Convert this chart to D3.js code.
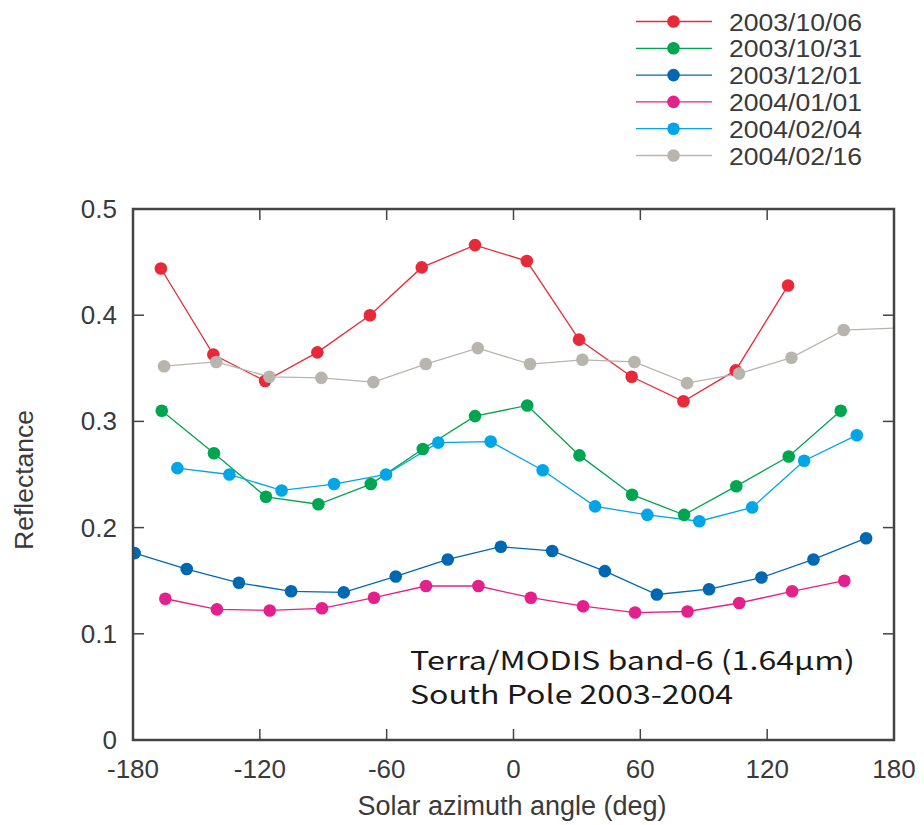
<!DOCTYPE html>
<html>
<head>
<meta charset="UTF-8">
<script src="https://d3js.org/d3.v7.min.js"></script>
<style>
  body { margin: 0; background: #fff; }
  svg { display: block; }
  text { font-family: "Liberation Sans", Arial, sans-serif; fill: #3a3a3a; }
</style>
</head>
<body>
<svg width="924" height="825"></svg>
<script>
// series labels and colours
const dates = ["2003/10/06", "2003/10/31", "2003/12/01", "2004/01/01", "2004/02/04", "2004/02/16"];
const colors = ["#e8293a", "#00a550", "#0068b2", "#e4208c", "#00a6e6", "#b8b5ae"];

// solar azimuth angle (deg) / reflectance per date
const angle1006 = [-166.8, -142.0, -117.5, -92.8, -67.9, -43.4, -18.2, 6.3, 31.0, 55.9, 80.4, 105.1, 129.9];
const refl1006  = [0.444, 0.363, 0.338, 0.365, 0.400, 0.445, 0.466, 0.451, 0.377, 0.342, 0.319, 0.348, 0.428];

const angle1031 = [-166.4, -141.7, -117.1, -92.3, -67.5, -42.9, -18.2, 6.5, 31.2, 56.1, 80.7, 105.4, 130.2, 154.8];
const refl1031  = [0.310, 0.270, 0.229, 0.222, 0.241, 0.274, 0.305, 0.315, 0.268, 0.231, 0.212, 0.239, 0.267, 0.310];

const angle1201 = [-179.2, -154.6, -129.9, -105.2, -80.3, -55.7, -31.1, -6.0, 18.3, 43.2, 67.8, 92.5, 117.3, 141.9, 166.8];
const refl1201  = [0.176, 0.161, 0.148, 0.140, 0.139, 0.154, 0.170, 0.182, 0.178, 0.159, 0.137, 0.142, 0.153, 0.170, 0.190];

const angle0101 = [-164.7, -140.3, -115.3, -90.6, -66.0, -41.4, -16.6, 8.2, 32.9, 57.5, 82.3, 106.8, 131.8, 156.5];
const refl0101  = [0.133, 0.123, 0.122, 0.124, 0.134, 0.145, 0.145, 0.134, 0.126, 0.120, 0.121, 0.129, 0.140, 0.150];

const angle0204 = [-159.0, -134.4, -109.7, -84.9, -60.3, -35.6, -10.8, 13.8, 38.6, 63.3, 87.9, 112.9, 137.5, 162.4];
const refl0204  = [0.256, 0.250, 0.235, 0.241, 0.250, 0.280, 0.281, 0.254, 0.220, 0.212, 0.206, 0.219, 0.263, 0.287];

const angle0216 = [-165.3, -140.6, -115.5, -90.9, -66.3, -41.5, -16.9, 7.8, 32.6, 57.2, 82.1, 106.7, 131.5, 156.2, 181.0];
const refl0216  = [0.352, 0.356, 0.342, 0.341, 0.337, 0.354, 0.369, 0.354, 0.358, 0.356, 0.336, 0.345, 0.360, 0.386, 0.388];

const xTicks = [-180, -120, -60, 0, 60, 120, 180];
const yTicks = [0, 0.1, 0.2, 0.3, 0.4, 0.5];

const angles = [angle1006, angle1031, angle1201, angle0101, angle0204, angle0216];
const refls = [refl1006, refl1031, refl1201, refl0101, refl0204, refl0216];
const series = dates.map((d, i) => ({
  name: d, color: colors[i],
  values: angles[i].map((a, j) => ({ x: a, y: refls[i][j] }))
}));

const svg = d3.select("svg");
const pl = 133, pr = 894, pt = 209, pb = 740;

const x = d3.scaleLinear().domain([-180, 180]).range([pl, pr]);
const y = d3.scaleLinear().domain([0, 0.5]).range([pb, pt]);

svg.append("defs").append("clipPath").attr("id", "plot")
  .append("rect").attr("x", pl).attr("y", pt)
  .attr("width", pr - pl).attr("height", pb - pt);

// series lines and markers
const line = d3.line().x(d => x(d.x)).y(d => y(d.y));
const g = svg.append("g").attr("clip-path", "url(#plot)");
series.forEach(s => {
  g.append("path").datum(s.values)
    .attr("d", line).attr("fill", "none")
    .attr("stroke", s.color).attr("stroke-width", 1.3);
});
series.forEach(s => {
  g.selectAll(null).data(s.values.filter(d => d.x <= 180)).enter()
    .append("circle")
    .attr("cx", d => x(d.x)).attr("cy", d => y(d.y))
    .attr("r", 6.3).attr("fill", s.color);
});

// frame and inward ticks
const axisColor = "#444";
svg.append("rect").attr("x", pl).attr("y", pt)
  .attr("width", pr - pl).attr("height", pb - pt)
  .attr("fill", "none").attr("stroke", axisColor).attr("stroke-width", 2.5);

const tl = 11;
xTicks.slice(1, -1).forEach(t => {
  svg.append("line").attr("x1", x(t)).attr("x2", x(t))
    .attr("y1", pb).attr("y2", pb - tl).attr("stroke", axisColor).attr("stroke-width", 1.5);
  svg.append("line").attr("x1", x(t)).attr("x2", x(t))
    .attr("y1", pt).attr("y2", pt + tl).attr("stroke", axisColor).attr("stroke-width", 1.5);
});
yTicks.slice(1, -1).forEach(t => {
  svg.append("line").attr("x1", pl).attr("x2", pl + tl)
    .attr("y1", y(t)).attr("y2", y(t)).attr("stroke", axisColor).attr("stroke-width", 1.5);
  svg.append("line").attr("x1", pr).attr("x2", pr - tl)
    .attr("y1", y(t)).attr("y2", y(t)).attr("stroke", axisColor).attr("stroke-width", 1.5);
});

// tick labels
svg.selectAll(".xl").data(xTicks).enter().append("text")
  .attr("x", d => x(d)).attr("y", 778)
  .attr("text-anchor", "middle").attr("font-size", 26)
  .text(d => d);
svg.selectAll(".yl").data(yTicks).enter().append("text")
  .attr("x", 117).attr("y", d => y(d) + 9)
  .attr("text-anchor", "end").attr("font-size", 26)
  .text(d => d === 0 ? "0" : d.toFixed(1));

// axis titles
svg.append("text").attr("x", 512).attr("y", 815)
  .attr("text-anchor", "middle").attr("font-size", 27)
  .text("Solar azimuth angle (deg)");
svg.append("text").attr("transform", "translate(33,480) rotate(-90)")
  .attr("text-anchor", "middle").attr("font-size", 26.5)
  .text("Reflectance");

// annotation
const ann = svg.append("g");
ann.append("text").attr("x", 410).attr("y", 670).attr("font-size", 26)
  .attr("textLength", 445).attr("lengthAdjust", "spacingAndGlyphs")
  .style("font-family", "'Noto Sans CJK JP', sans-serif").style("fill", "#1a1a1a")
  .text("Terra/MODIS band-6 (1.64μm)");
ann.append("text").attr("x", 410).attr("y", 704).attr("font-size", 26)
  .attr("textLength", 323).attr("lengthAdjust", "spacingAndGlyphs")
  .style("font-family", "'Noto Sans CJK JP', sans-serif").style("fill", "#1a1a1a")
  .text("South Pole 2003-2004");

// legend
const legend = svg.append("g");
series.forEach((s, i) => {
  const ly = 21.5 + i * 26.8;
  legend.append("line").attr("x1", 636).attr("x2", 712)
    .attr("y1", ly).attr("y2", ly).attr("stroke", s.color).attr("stroke-width", 1.3);
  legend.append("circle").attr("cx", 673.5).attr("cy", ly).attr("r", 6.3).attr("fill", s.color);
  legend.append("text").attr("x", 729).attr("y", ly + 9)
    .attr("font-size", 23.5)
    .attr("textLength", 133).attr("lengthAdjust", "spacingAndGlyphs")
    .text(s.name);
});
</script>
</body>
</html>
